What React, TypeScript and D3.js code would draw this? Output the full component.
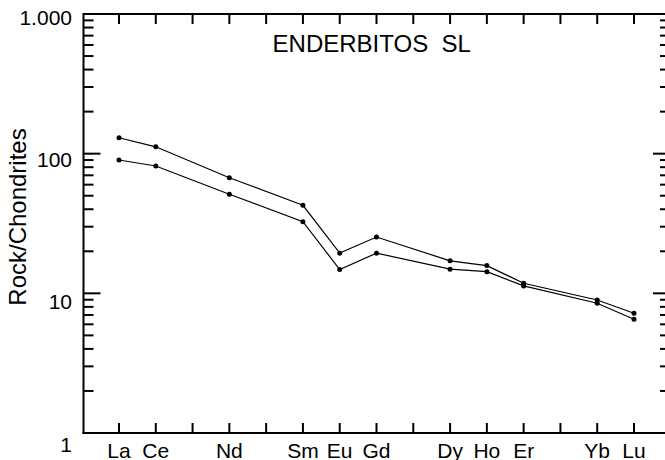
import React from "react";
import * as d3 from "d3";

const elements = ["La","Ce","Pr","Nd","Pm","Sm","Eu","Gd","Tb","Dy","Ho","Er","Tm","Yb","Lu"];
const labelled = ["La","Ce","Nd","Sm","Eu","Gd","Dy","Ho","Er","Yb","Lu"];
const sampleElements = ["La","Ce","Nd","Sm","Eu","Gd","Dy","Ho","Er","Yb","Lu"];
const seriesA = [130, 112, 67.3, 42.7, 19.4, 25.3, 17.1, 15.8, 11.8, 8.96, 7.2];
const seriesB = [90.1, 81.6, 51.2, 32.6, 14.8, 19.4, 14.9, 14.3, 11.3, 8.49, 6.52];
const yTickValues = [1, 10, 100, 1000];
const yTickLabels = ["1", "10", "100", "1.000"];
const title = "ENDERBITOS  SL";
const yTitle = "Rock/Chondrites";

const W = 665, H = 460;
const left = 83.5, right = 670, top = 14, bottom = 433;
const FONT = "'Liberation Sans', Arial, Helvetica, sans-serif";

export default function App() {
  const x = d3.scaleLinear().domain([1, elements.length]).range([119, 634]);
  const y = d3.scaleLog().domain([1, 1000]).range([bottom, top]);
  const xi = (el: string) => x(elements.indexOf(el) + 1);

  const line = d3.line<[string, number]>().x(d => xi(d[0])).y(d => y(d[1]));
  const series = [seriesA, seriesB].map(s => sampleElements.map((e, i) => [e, s[i]] as [string, number]));

  const minor: number[] = [];
  for (let dec = 1; dec < 1000; dec *= 10) for (let m = 2; m <= 9; m++) minor.push(dec * m);
  const major = [10, 100];

  return (
    <svg width={W} height={H} style={{ position: "absolute", left: 0, top: 0, display: "block", background: "#fff" }} fontFamily={FONT}>
      <rect x={0} y={0} width={W} height={H} fill="#fff" />
      <g stroke="#000" strokeWidth={2} fill="none">
        <line x1={left} y1={top} x2={left} y2={bottom + 1} />
        <line x1={left - 1} y1={bottom} x2={right} y2={bottom} />
        <line x1={left - 1} y1={top} x2={right} y2={top} />
        <line x1={right} y1={top} x2={right} y2={bottom} />
        {elements.map((e, i) => (
          <g key={e}>
            <line x1={x(i + 1)} x2={x(i + 1)} y1={bottom} y2={bottom - 10} />
            <line x1={x(i + 1)} x2={x(i + 1)} y1={top} y2={top + 10} />
          </g>
        ))}
        {minor.map(v => (
          <g key={"m" + v}>
            <line x1={left} x2={left + 10} y1={y(v)} y2={y(v)} />
            <line x1={right} x2={right - 10} y1={y(v)} y2={y(v)} />
          </g>
        ))}
        {major.map(v => (
          <g key={"M" + v}>
            <line x1={left} x2={left + 17} y1={y(v)} y2={y(v)} />
            <line x1={right} x2={right - 17} y1={y(v)} y2={y(v)} />
          </g>
        ))}
      </g>
      {yTickValues.map((v, i) => (
        <text key={"yl" + v} x={72} y={y(v) + 11 + 2.5 * (3 - Math.log10(v))} textAnchor="end" fontSize={21} fill="#000">
          {yTickLabels[i]}
        </text>
      ))}
      {labelled.map(e => (
        <text key={"xl" + e} x={xi(e)} y={457.5} textAnchor="middle" fontSize={21} fill="#000">{e}</text>
      ))}
      <text x={371.7} y={51.7} textAnchor="middle" fontSize={24} fill="#000" style={{ whiteSpace: "pre" }}>{title}</text>
      <text transform={`translate(25.5,217) rotate(-90)`} textAnchor="middle" fontSize={24} fill="#000">{yTitle}</text>
      {series.map((s, k) => (
        <g key={"s" + k}>
          <path d={line(s) || ""} fill="none" stroke="#000" strokeWidth={1.2} />
          {s.map(d => (
            <circle key={d[0]} cx={xi(d[0])} cy={y(d[1])} r={2.5} fill="#000" />
          ))}
        </g>
      ))}
    </svg>
  );
}
